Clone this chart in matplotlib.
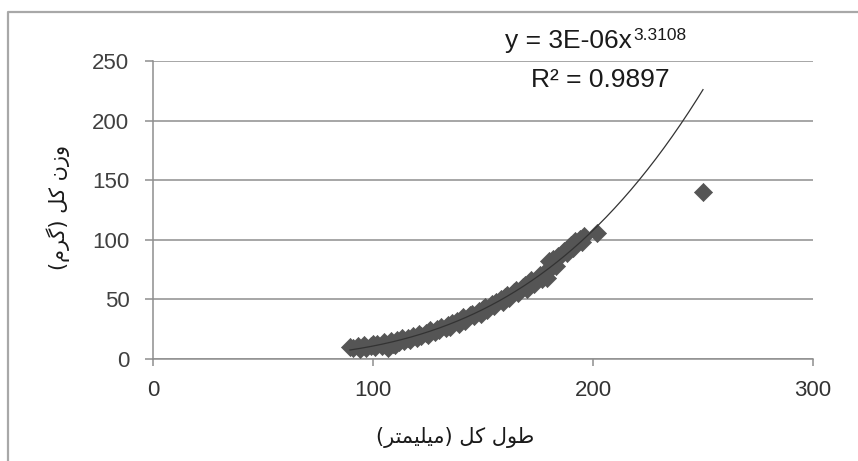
import matplotlib
matplotlib.use('Agg')
import matplotlib.pyplot as plt
import numpy as np
from matplotlib.lines import Line2D

# ---------------- data ----------------
length_mm = [89.5, 91, 93, 94, 96, 97, 99, 100, 101, 102, 104, 105, 106, 107, 108,
             109, 110, 111, 112, 113, 114, 116, 117, 118, 120, 121, 122, 124, 125,
             126, 128, 129, 130, 131, 133, 134, 135, 136, 138, 139, 140, 141, 142,
             144, 145, 146, 148, 149, 150, 151, 152, 154, 155, 156, 158, 159, 160,
             161, 162, 164, 165, 166, 168, 169, 170, 171, 172, 173, 175, 176, 177,
             178, 179, 180, 181, 182, 183, 184, 186, 187, 188, 189, 190, 191, 192,
             194, 195, 196, 202, 250]
weight_g = [10, 9, 11, 8.5, 12, 9.5, 11, 13, 10, 12.5, 11, 14, 12, 9, 15,
            13, 12, 16, 14, 17.5, 15, 18, 16, 19.5, 18, 21, 19.5, 22, 20.5,
            24, 23, 25.5, 24, 27, 26, 28.5, 27, 30, 31.5, 29, 33, 35, 32,
            36.5, 38, 36, 40, 38, 42, 44, 41, 46, 44.5, 48, 50, 48, 52,
            54, 51, 56, 58, 55, 60, 62, 59, 64, 66, 63, 68, 70.5, 67,
            73, 68, 82, 76, 84, 78, 86, 88, 91, 89, 94, 96, 93, 99,
            101, 98, 103, 106, 140]

fit_a = 2.6e-6
fit_b = 3.3108
eq_main = "y = 3E-06x"
eq_exp = "3.3108"
r2_text = "R\u00b2 = 0.9897"

x_ticks = [0, 100, 200, 300]
y_ticks = [0, 50, 100, 150, 200, 250]
x_label = "طول کل (میلیمتر)"
y_label = "وزن کل (گرم)"

# ------------- minimal Persian shaping (matplotlib has no RTL shaping) -------------
FORMS = {
    'ط': (0xFEC1, 0xFEC2, 0xFEC3, 0xFEC4),
    'و': (0xFEED, 0xFEEE, None, None),
    'ل': (0xFEDD, 0xFEDE, 0xFEDF, 0xFEE0),
    'ک': (0xFB8E, 0xFB8F, 0xFB90, 0xFB91),
    'ی': (0xFBFC, 0xFBFD, 0xFBFE, 0xFBFF),
    'م': (0xFEE1, 0xFEE2, 0xFEE3, 0xFEE4),
    'ت': (0xFE95, 0xFE96, 0xFE97, 0xFE98),
    'ر': (0xFEAD, 0xFEAE, None, None),
    'ز': (0xFEAF, 0xFEB0, None, None),
    'ن': (0xFEE5, 0xFEE6, 0xFEE7, 0xFEE8),
    'گ': (0xFB92, 0xFB93, 0xFB94, 0xFB95),
}


def dual(c):
    return c in FORMS and FORMS[c][2] is not None


def shape_rtl(s):
    out = []
    for i, c in enumerate(s):
        if c not in FORMS:
            out.append(c)
            continue
        prev = s[i - 1] if i > 0 else ''
        nxt = s[i + 1] if i + 1 < len(s) else ''
        jp = dual(prev)
        jn = dual(c) and nxt in FORMS
        iso, fin, ini, med = FORMS[c]
        if jp and jn:
            g = med
        elif jp:
            g = fin
        elif jn:
            g = ini
        else:
            g = iso
        out.append(chr(g))
    vis = ''.join(reversed(out))
    mirror = {'(': ')', ')': '('}
    return ''.join(mirror.get(ch, ch) for ch in vis)


# ---------------- figure ----------------
W, H = 858, 461
fig = plt.figure(figsize=(W / 100, H / 100), dpi=100)
fig.patch.set_facecolor('white')

ax = fig.add_axes([153 / W, 1 - 359 / H, (813 - 153) / W, (359 - 61) / H])
ax.set_xlim(0, 300)
ax.set_ylim(0, 250)

grid_c = '#8e8e8e'
ax.set_yticks(y_ticks)
ax.set_xticks(x_ticks)
ax.yaxis.grid(True, color=grid_c, lw=1.1)
ax.set_axisbelow(True)
for s in ['top', 'right']:
    ax.spines[s].set_visible(False)
for s in ['left', 'bottom']:
    ax.spines[s].set_color(grid_c)
    ax.spines[s].set_linewidth(1.1)

ax.tick_params(axis='y', direction='out', length=6, width=1.1, color=grid_c,
               pad=11, labelsize=16, labelcolor='#404040')
ax.tick_params(axis='x', direction='out', length=5, width=1.1, color=grid_c,
               pad=10, labelsize=16, labelcolor='#333333')
for lab in ax.get_xticklabels() + ax.get_yticklabels():
    lab.set_fontfamily('Liberation Sans')

ax.scatter(length_mm, weight_g, marker='D', s=85, color='#555555',
           edgecolors='#555555', linewidths=0.5, zorder=3)

xf = np.linspace(min(length_mm), max(length_mm), 300)
ax.plot(xf, fit_a * xf ** fit_b, color='#333333', lw=0.9, zorder=4)

# equation text
t1 = fig.text(505 / W, 1 - 48 / H, eq_main, fontsize=19, color='#1a1a1a',
              family='Liberation Sans', ha='left', va='baseline')
ax.annotate(eq_exp, xy=(1, 1), xycoords=t1, xytext=(1, 1),
            textcoords='offset points', fontsize=12.5, color='#1a1a1a',
            family='Liberation Sans', ha='left', va='top', annotation_clip=False)
fig.text(600 / W, 1 - 87 / H, r2_text, fontsize=19, color='#1a1a1a',
         family='Liberation Sans', ha='center', va='baseline')

# axis labels (Persian)
fig.text(455 / W, 1 - 437 / H, shape_rtl(x_label), fontsize=15, color='#1a1a1a',
         family=['DejaVu Sans'], ha='center', va='center')
fig.text(58 / W, 1 - 207 / H, shape_rtl(y_label), fontsize=15, color='#1a1a1a',
         family=['DejaVu Sans'], ha='center', va='center', rotation=90)

# chart-area border (only top and left visible in the crop)
fig.add_artist(Line2D([8 / W, 8 / W, 1.0], [0.0, 1 - 12 / H, 1 - 12 / H],
                      transform=fig.transFigure, color='#a8a8a8', lw=1.6))

fig.savefig('out.png', dpi=100, facecolor='white')
